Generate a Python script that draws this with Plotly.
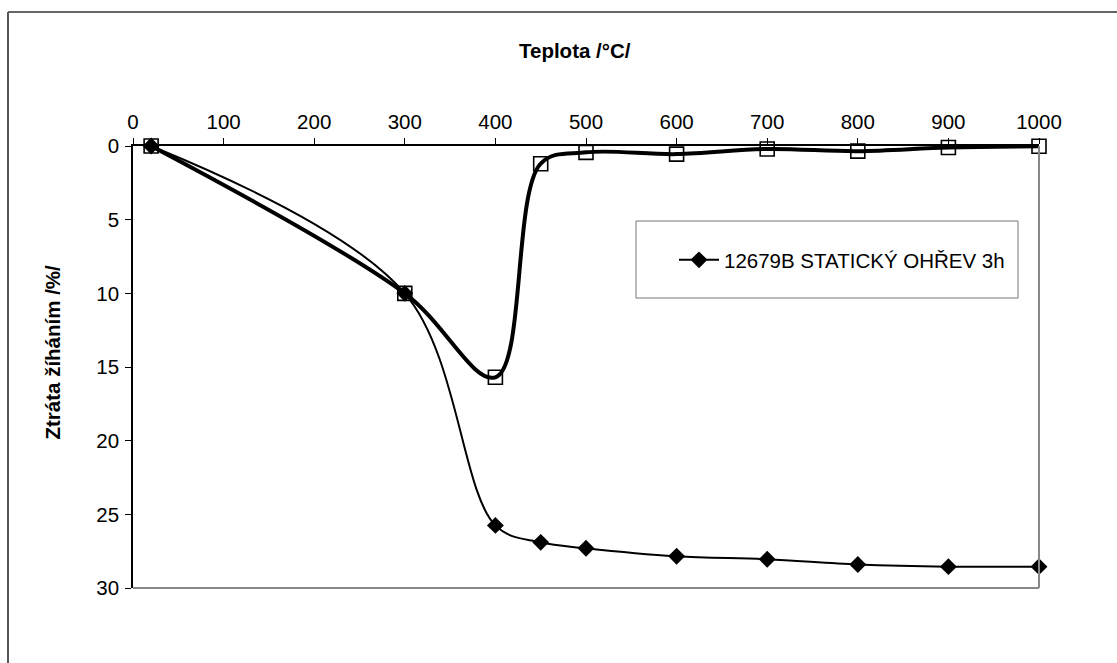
import plotly.graph_objects as go

# Temperature steps (°C)
teplota = [20, 300, 400, 450, 500, 600, 700, 800, 900, 1000]
# Loss on ignition, static heating 3 h (%)
ztrata_staticky = [0.0, 10.0, 25.75, 26.9, 27.3, 27.85, 28.05, 28.4, 28.55, 28.55]
# Second measurement series (%)
ztrata_druha = [0.0, 10.0, 15.7, 1.2, 0.43, 0.55, 0.2, 0.35, 0.1, 0.02]

nazev_serie = "12679B STATICKÝ OHŘEV 3h"
osa_x_titul = "Teplota /°C/"
osa_y_titul = "Ztráta žíháním /%/"
x_ticks = [0, 100, 200, 300, 400, 500, 600, 700, 800, 900, 1000]
y_ticks = [0, 5, 10, 15, 20, 25, 30]

W, H = 1117, 663
L, R, T, B = 133, 78, 146, 75
PW, PH = W - L - R, H - T - B


def px_x(p):
    return (p - L) / PW


def px_y(p):
    return 1 - (p - T) / PH


FONT = "Liberation Sans, Arial, sans-serif"

fig = go.Figure()

fig.add_trace(go.Scatter(
    x=teplota, y=ztrata_staticky, name=nazev_serie,
    mode="lines+markers", cliponaxis=False,
    line=dict(color="black", width=2, shape="spline", smoothing=1.0),
    marker=dict(symbol="diamond", size=13, color="black"),
))

fig.add_trace(go.Scatter(
    x=teplota, y=ztrata_druha, showlegend=False,
    mode="lines+markers", cliponaxis=False,
    line=dict(color="black", width=4, shape="spline", smoothing=1.0),
    marker=dict(symbol="square-open", size=14, color="black",
                line=dict(width=1.6)),
))

shapes = [
    # outer chart frame (top and left edges)
    dict(type="line", xref="paper", yref="paper",
         x0=px_x(8), x1=px_x(W + 5), y0=px_y(12), y1=px_y(12),
         line=dict(color="#333333", width=1.5)),
    dict(type="line", xref="paper", yref="paper",
         x0=px_x(8), x1=px_x(8), y0=px_y(12), y1=px_y(H + 5),
         line=dict(color="#555555", width=2)),
    # right and bottom plot-area edges
    dict(type="line", xref="paper", yref="paper",
         x0=1, x1=1, y0=0, y1=1, line=dict(color="#888888", width=2)),
    dict(type="line", xref="paper", yref="paper",
         x0=0, x1=1, y0=0, y1=0, line=dict(color="#888888", width=2)),
    # legend frame
    dict(type="rect", xref="paper", yref="paper",
         x0=px_x(636), x1=px_x(1018), y0=px_y(298), y1=px_y(221),
         line=dict(color="#777777", width=1), fillcolor="white", layer="below"),
]

annotations = [
    dict(text=osa_x_titul, xref="paper", yref="paper",
         x=px_x(575), y=px_y(51), showarrow=False,
         font=dict(family=FONT, size=20.5, color="black", weight="bold"),
         xanchor="center", yanchor="middle"),
    dict(text=osa_y_titul, xref="paper", yref="paper",
         x=px_x(51.5), y=px_y(352), showarrow=False, textangle=-90,
         font=dict(family=FONT, size=20.5, color="black", weight="bold"),
         xanchor="center", yanchor="middle"),
]

fig.update_layout(
    width=W, height=H,
    margin=dict(l=L, r=R, t=T, b=B),
    paper_bgcolor="white", plot_bgcolor="white",
    font=dict(family=FONT, size=20.5, color="black"),
    shapes=shapes,
    annotations=annotations,
    showlegend=True,
    legend=dict(
        x=px_x(674), y=px_y(260), xanchor="left", yanchor="middle",
        bgcolor="rgba(0,0,0,0)", borderwidth=0,
        font=dict(family=FONT, size=20.5, color="black"),
        itemwidth=40,
    ),
)

fig.update_xaxes(
    range=[0, 1000], side="top", tickvals=x_ticks,
    showgrid=False, zeroline=False,
    showline=True, linecolor="black", linewidth=1.5,
    ticks="outside", ticklen=6, tickcolor="black", tickwidth=1,
    ticklabelstandoff=1, tickfont=dict(size=20.5),
)
fig.update_yaxes(
    range=[30, 0], tickvals=y_ticks,
    showgrid=False, zeroline=False,
    showline=True, linecolor="black", linewidth=1.5,
    ticks="outside", ticklen=6, tickcolor="black", tickwidth=1,
    ticklabelstandoff=2, tickfont=dict(size=20.5),
)

fig.write_html("out.html")
